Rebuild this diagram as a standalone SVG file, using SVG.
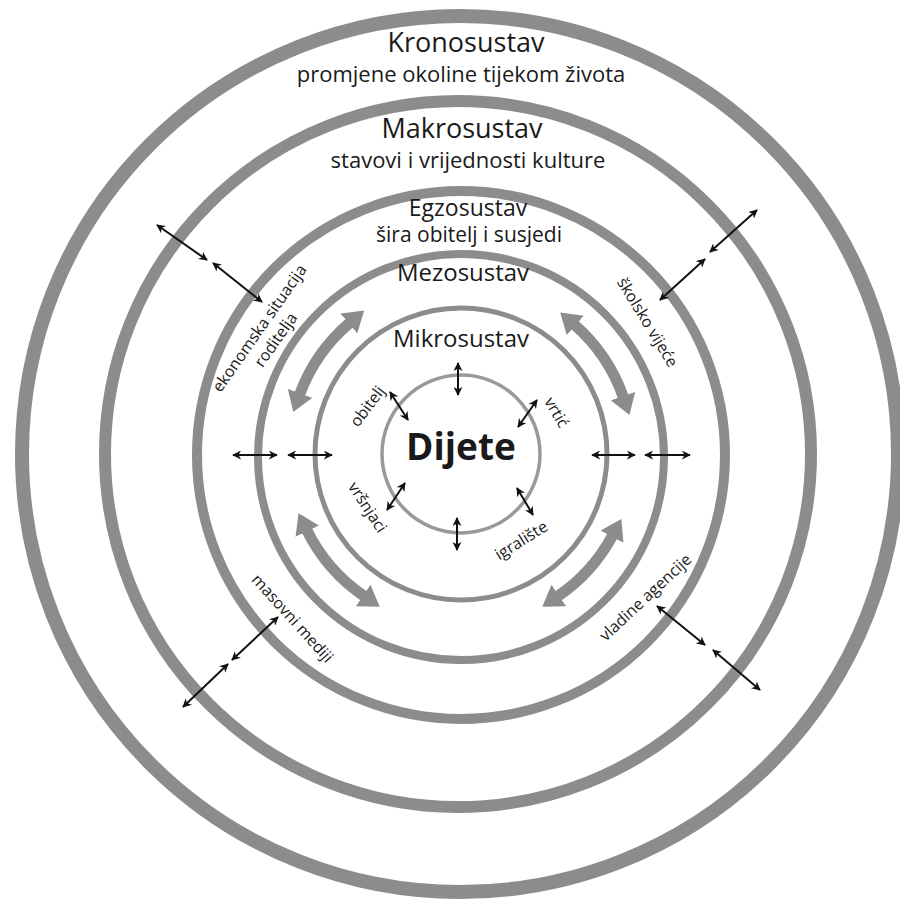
<svg xmlns="http://www.w3.org/2000/svg" width="900" height="899" viewBox="0 0 900 899">
<style>
.ring{fill:none;stroke:#8c8c8c}
.t{font-family:"Open Sans","Noto Sans",sans-serif;fill:#1a1a1a;text-anchor:middle}
.h{font-size:27px}
.s{font-size:22px}
.l{font-size:16px}
.bi{stroke:#111;stroke-width:2;fill:none;marker-start:url(#ah);marker-end:url(#ah)}
.big{stroke:#8c8c8c;stroke-width:11;fill:none;marker-start:url(#bh);marker-end:url(#bh)}
</style>
<defs>
<marker id="ah" viewBox="0 0 10 10" refX="9" refY="5" markerWidth="4.5" markerHeight="4.5" orient="auto-start-reverse"><path d="M0,0 L10,5 L0,10 L3,5 z" fill="#111"/></marker>
<marker id="bh" viewBox="0 0 20 26" refX="2" refY="13" markerWidth="20" markerHeight="26" markerUnits="userSpaceOnUse" orient="auto-start-reverse"><path d="M0,0 L20,13 L0,26 z" fill="#8c8c8c"/></marker>
</defs>
<rect width="900" height="899" fill="#fff"/>
<g id="kronosustav">
<circle class="ring" cx="460" cy="454" r="438" stroke-width="14"/>
<text class="t h" x="466" y="52">Kronosustav</text>
<text class="t s" x="461" y="82">promjene okoline tijekom života</text>
</g>
<g id="makrosustav">
<circle class="ring" cx="458" cy="454" r="353" stroke-width="12"/>
<text class="t h" x="462" y="138">Makrosustav</text>
<text class="t s" x="468" y="168">stavovi i vrijednosti kulture</text>
</g>
<g id="egzosustav">
<circle class="ring" cx="461" cy="455" r="264" stroke-width="10"/>
<text class="t" style="font-size:23px" x="468" y="216">Egzosustav</text>
<text class="t" style="font-size:21px" x="469" y="242">šira obitelj i susjedi</text>
<g transform="translate(259,328) rotate(-55)"><text class="t l" x="0" y="6">ekonomska situacija</text><text class="t l" x="0" y="26">roditelja</text></g>
<text class="t l" transform="translate(648,322) rotate(58.6)" x="0" y="6">školsko vijeće</text>
<text class="t l" transform="translate(293,618) rotate(48)" x="0" y="6">masovni mediji</text>
<text class="t l" transform="translate(645,597) rotate(-43)" x="0" y="6">vladine agencije</text>
</g>
<g id="mezosustav">
<circle class="ring" cx="461" cy="457" r="203" stroke-width="8"/>
<text class="t" style="font-size:24px" x="463" y="281">Mezosustav</text>
</g>
<g id="mikrosustav">
<circle class="ring" cx="461" cy="454" r="146" stroke-width="5"/>
<text class="t" style="font-size:24px" x="461" y="347">Mikrosustav</text>
<text class="t l" transform="translate(367,406) rotate(-53)" x="0" y="6">obitelj</text>
<text class="t l" transform="translate(557,412) rotate(60)" x="0" y="6">vrtić</text>
<text class="t l" transform="translate(368,507) rotate(57)" x="0" y="6">vršnjaci</text>
<text class="t l" transform="translate(521,540) rotate(-32)" x="0" y="6">igralište</text>
</g>
<g id="dijete">
<circle cx="461" cy="454" r="79" fill="none" stroke="#999" stroke-width="3.5"/>
<text class="t" style="font-size:37px;font-weight:bold" x="461" y="460">Dijete</text>
</g>
<g id="connectors">
<path class="big" d="M299.4 395.2 A172 172 0 0 1 350.4 322.2"/>
<path class="big" d="M573.8 324.2 A172 172 0 0 1 623.6 398.0"/>
<path class="big" d="M364.8 596.6 A172 172 0 0 1 306.4 529.4"/>
<path class="big" d="M612.9 534.8 A172 172 0 0 1 557.2 596.6"/>
<line class="bi" x1="458" y1="363" x2="458" y2="395"/>
<line class="bi" x1="390" y1="392" x2="408" y2="420"/>
<line class="bi" x1="537" y1="400" x2="518" y2="427"/>
<line class="bi" x1="405" y1="483" x2="387" y2="510"/>
<line class="bi" x1="517" y1="488" x2="533" y2="515"/>
<line class="bi" x1="457" y1="518" x2="457" y2="550"/>
<line class="bi" x1="233" y1="455" x2="277" y2="455"/>
<line class="bi" x1="288" y1="455" x2="332" y2="455"/>
<line class="bi" x1="592" y1="455" x2="635" y2="455"/>
<line class="bi" x1="645" y1="455" x2="690" y2="455"/>
<line class="bi" x1="157" y1="225" x2="207" y2="260"/>
<line class="bi" x1="213" y1="263" x2="262" y2="302"/>
<line class="bi" x1="757" y1="210" x2="710" y2="252"/>
<line class="bi" x1="705" y1="259" x2="660" y2="300"/>
<line class="bi" x1="278" y1="617" x2="232" y2="660"/>
<line class="bi" x1="228" y1="664" x2="183" y2="707"/>
<line class="bi" x1="657" y1="606" x2="705" y2="645"/>
<line class="bi" x1="713" y1="650" x2="760" y2="690"/>
</g>
</svg>
